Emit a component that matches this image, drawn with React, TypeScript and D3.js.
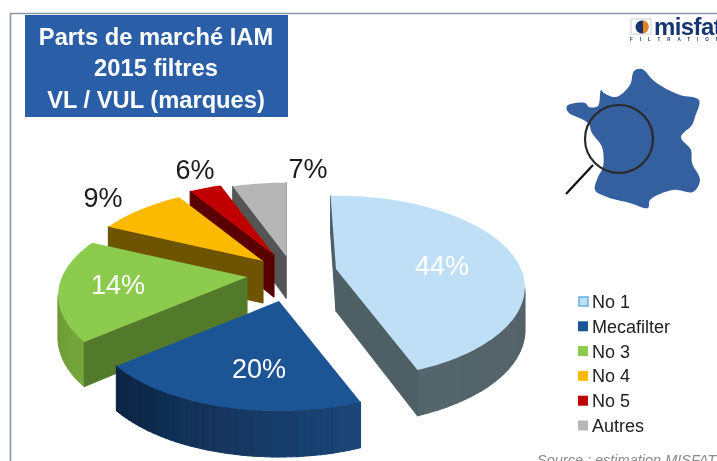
import React from "react";
import * as d3 from "d3";

const W = 717, H = 461;

const categories = ["No 1", "Mecafilter", "No 3", "No 4", "No 5", "Autres"];
const shares = [44, 20, 14, 9, 6, 7];
const shareLabels = ["44%", "20%", "14%", "9%", "6%", "7%"];
const titleLines = ["Parts de marché IAM", "2015 filtres", "VL / VUL (marques)"];
const topColors = ["#bfdff6", "#1f5596", "#8ccb4e", "#fbb900", "#c00000", "#b6b6b6"];
const cutColors = ["#4f5f66", "#12325c", "#537a2c", "#6e5200", "#5a0000", "#555555"];
const arcFrom = ["#4f5f66", "#1c4679", "#76a63c", "#6e5200", "#5a0000", "#555555"];
const arcTo = ["#55656c", "#0c2544", "#5f8a30", "#6e5200", "#5a0000", "#555555"];
const legendFill = ["#bfdff6", "#1f5596", "#8ccb4e", "#fbb900", "#c00000", "#b6b6b6"];

// layout calibration (pixels) — where each exploded slice's tip sits
const sliceTipX = [336, 279, 247, 263, 274, 286];
const sliceTipY = [269, 301, 277, 261, 255, 256];
const labelX = [442, 259, 118, 103, 195, 308];
const labelY = [275, 378, 294, 207, 179, 178];
const labelFill = ["#fff", "#fff", "#fff", "#1a1a1a", "#1a1a1a", "#1a1a1a"];
const drawOrder = [5, 4, 3, 2, 0, 1];

// the 3D view distorts the angles of the original pie
const angleWarp = d3.scaleLinear()
  .domain([0, 158.4, 230.4, 280.8, 313.2, 334.8, 360])
  .range([-2, 159, 230, 295, 328, 340, 360]);

const RX = 185, RY = 88, PERSP = 0.2;

function project(tipX: number, tipY: number, deg: number, r: number, low: boolean): [number, number] {
  const a = (deg * Math.PI) / 180;
  const X = Math.sin(a) * r, Y = Math.cos(a) * r;
  const p = 1 / (1 + PERSP * Y);
  const depth = low ? 42 - 4 * Y : 0;
  return [tipX + X * RX * p, tipY - Y * RY * p + depth];
}

const pieGen = d3.pie<number>().sort(null).startAngle(0).endAngle(2 * Math.PI);
const arcs = pieGen(shares);
const line = d3.line();

const francePts: [number, number][] = [
  [567, 106], [585, 103], [589, 107], [598, 106], [601, 90], [604, 93], [616, 97], [630, 85], [634, 71], [642, 69],
  [653, 80], [663, 87], [680, 95], [699, 100], [695, 117], [692, 125], [681, 137], [691, 150], [692, 163], [700, 180],
  [693, 192], [673, 190], [650, 200], [648, 208], [630, 203], [607, 197], [595, 190], [598, 177], [603, 167], [602, 147],
  [592, 133], [588, 123], [568, 112],
];
const franceLine = d3.line().curve(d3.curveCatmullRomClosed.alpha(0.5));

function Slice({ i }: { i: number }) {
  const tx = sliceTipX[i], ty = sliceTipY[i];
  const a0 = angleWarp((arcs[i].startAngle * 180) / Math.PI);
  const a1 = angleWarp((arcs[i].endAngle * 180) / Math.PI);
  const n = Math.max(8, Math.round((a1 - a0) / 1.5));
  const degs = d3.range(n + 1).map((k) => a0 + ((a1 - a0) * k) / n);
  const top = degs.map((d) => project(tx, ty, d, 1, false));
  const low = degs.map((d) => project(tx, ty, d, 1, true));
  const tipTop: [number, number] = [tx, ty];
  const tipLow = project(tx, ty, 0, 0, true);
  const mix = d3.interpolateRgb(arcFrom[i], arcTo[i]);
  const quads: { d: string; c: string }[] = [];
  const add = (p: [number, number], q: [number, number], pl: [number, number], ql: [number, number], c: string) => {
    if (q[0] - p[0] < 0) quads.push({ d: line([p, q, ql, pl])! + "Z", c });
  };
  for (let k = 0; k < n; k++) add(top[k], top[k + 1], low[k], low[k + 1], mix(k / (n - 1)));
  add(tipTop, top[0], tipLow, low[0], cutColors[i]);
  add(top[n], tipTop, low[n], tipLow, cutColors[i]);
  return (
    <g>
      {quads.map((q, k) => <path key={k} d={q.d} fill={q.c} stroke={q.c} strokeWidth={1.1} strokeLinejoin="round" />)}
      <path d={line([tipTop, ...top])! + "Z"} fill={topColors[i]} />
    </g>
  );
}

export default function App() {
  const font = "'Liberation Sans', Arial, sans-serif";
  const legendY = d3.scalePoint<string>().domain(categories).range([302, 426]);
  return (
    <svg width={W} height={H} viewBox={`0 0 ${W} ${H}`}
      style={{ position: "absolute", left: 0, top: 0, background: "#fff", fontFamily: font }}>
      <defs>
        <filter id="soft" x="0" y="0" width="100%" height="100%">
          <feGaussianBlur stdDeviation="0.55" />
        </filter>
      </defs>
      <g filter="url(#soft)">
        <rect width={W} height={H} fill="#fff" />
        <path d={`M10.5 ${H} V13.5 H${W}`} fill="none" stroke="#8b97a8" strokeWidth={1.6} />
        <rect x={25} y={15} width={263} height={102} fill="#2a5ea8" />
        {titleLines.map((t, i) => (
          <text key={t} x={156} y={[45, 76, 108][i]} textAnchor="middle" fontSize={23.7} fontWeight={700} fill="#fff">{t}</text>
        ))}

        {/* logo */}
        <rect x={631} y={19} width={20} height={15} fill="#fff" stroke="#c8ccd4" />
        <circle cx={642} cy={27} r={6.5} fill="#16356e" />
        <path d="M643 20.6 A6.5 6.5 0 0 1 643 33.4 Z" fill="#e8801c" />
        <text x={654} y={35} fontSize={24} fontWeight={700} fill="#16356e" letterSpacing={-0.6}>misfat</text>
        <text x={630} y={41} fontSize={4.5} fontWeight={700} fill="#16356e" letterSpacing={7}>FILTRATION</text>

        {/* France and magnifier */}
        <path d={franceLine(francePts)!} fill="#34609f" />
        <path d="M593 165 L566 194" stroke="#111" strokeWidth={2.2} fill="none" />
        <circle cx={619} cy={139} r={34} fill="none" stroke="#2a2a2a" strokeWidth={2.2} />

        {/* pie */}
        {drawOrder.map((i) => <Slice key={i} i={i} />)}
        {shareLabels.map((t, i) => (
          <text key={t} x={labelX[i]} y={labelY[i]} textAnchor="middle" fontSize={27} fill={labelFill[i]}>{t}</text>
        ))}

        {/* legend */}
        {categories.map((c, i) => {
          const y = legendY(c)!;
          return (
            <g key={c}>
              <rect x={i === 0 ? 579 : 578} y={y - (i === 0 ? 5 : 5.5)} width={i === 0 ? 9 : 10} height={i === 0 ? 9 : 10}
                fill={legendFill[i]} stroke={i === 0 ? "#5ea8e0" : "none"} strokeWidth={1.4} />
              <text x={592} y={y + 6} fontSize={18} fill="#222">{c}</text>
            </g>
          );
        })}
        <text x={537} y={465} fontSize={14.5} fontStyle="italic" fill="#8a8a8a">Source : estimation MISFAT</text>
      </g>
    </svg>
  );
}
